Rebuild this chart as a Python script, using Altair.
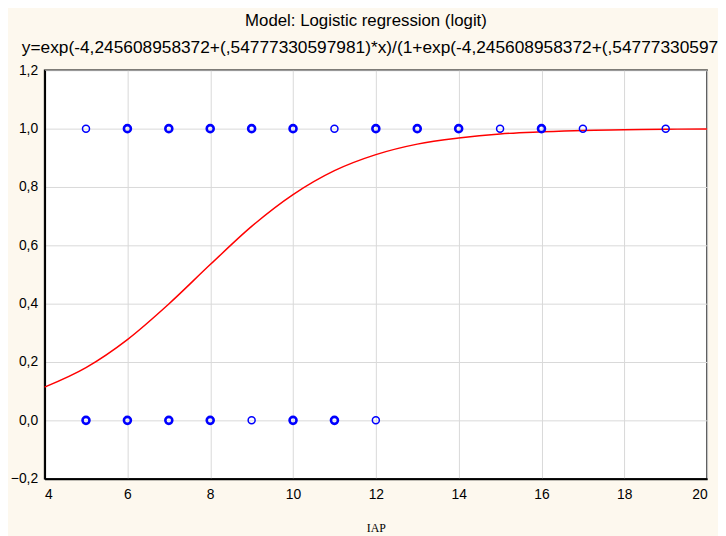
import altair as alt
import pandas as pd

# fitted logistic curve
curve_x = [4, 5, 6, 7, 8, 9, 10, 11, 12, 13, 14, 15, 16, 17, 18, 19, 20]
curve_y = [0.114, 0.181, 0.277, 0.399, 0.534, 0.665, 0.774, 0.856, 0.911,
           0.947, 0.968, 0.982, 0.989, 0.994, 0.996, 0.998, 0.999]

# observed cases (y = 1) and overlap multiplicity (1 = single, 2 = several)
one_x = [5, 6, 7, 8, 9, 10, 11, 12, 13, 14, 15, 16, 17, 19]
one_n = [1, 2, 2, 2, 2, 2, 1, 2, 2, 2, 1, 2, 1, 1]
# observed cases (y = 0)
zero_x = [5, 6, 7, 8, 9, 10, 11, 12]
zero_n = [2, 2, 2, 2, 1, 2, 2, 1]

title1 = "Model: Logistic regression (logit)"
title2 = "y=exp(-4,245608958372+(,54777330597981)*x)/(1+exp(-4,245608958372+(,54777330597981)*x))"
x_title = "IAP"
x_ticks = [4, 6, 8, 10, 12, 14, 16, 18, 20]
y_ticks = [-0.2, 0.0, 0.2, 0.4, 0.6, 0.8, 1.0, 1.2]

curve_df = pd.DataFrame({"x": curve_x, "y": curve_y})
pts_df = pd.DataFrame({
    "x": one_x + zero_x,
    "y": [1.0] * len(one_x) + [0.0] * len(zero_x),
    "n": one_n + zero_n,
})

xs = alt.Scale(domain=[4, 20], nice=False, zero=False)
ys = alt.Scale(domain=[-0.2, 1.2], nice=False, zero=False)

x_axis = alt.Axis(values=x_ticks, title=x_title, ticks=False, labelPadding=9,
                  titleFont="Liberation Serif", titleFontSize=12, titleFontWeight="normal",
                  titlePadding=21)
y_axis = alt.Axis(values=y_ticks, title=None, ticks=False, labelPadding=7,
                  labelExpr="replace(format(datum.value, '.1f'), '.', ',')")

curve = alt.Chart(curve_df).mark_line(color="#ff0000", strokeWidth=1.5,
                                      interpolate="monotone").encode(
    x=alt.X("x:Q", scale=xs, axis=x_axis),
    y=alt.Y("y:Q", scale=ys, axis=y_axis),
)

points = alt.Chart(pts_df).mark_point(shape="circle", filled=False, color="#0000ff",
                                      size=50, opacity=1).encode(
    x=alt.X("x:Q", scale=xs),
    y=alt.Y("y:Q", scale=ys),
    strokeWidth=alt.StrokeWidth("n:O", scale=alt.Scale(domain=[1, 2], range=[1.5, 2.6]),
                                legend=None),
)

t1 = alt.Chart(pd.DataFrame({"t": [title1]})).mark_text(
    align="center", baseline="middle", font="Liberation Sans", fontSize=17, color="#000000"
).encode(x=alt.value(325), y=alt.value(-50), text="t:N")

t2 = alt.Chart(pd.DataFrame({"t": [title2]})).mark_text(
    align="left", baseline="middle", font="Liberation Sans", fontSize=17.5, color="#000000"
).encode(x=alt.value(-23), y=alt.value(-23), text="t:N")

chart = alt.layer(curve, points, t1, t2).properties(
    width=670, height=413,
    autosize=alt.AutoSizeParams(type="none"),
    padding={"left": 37, "top": 60, "right": 11, "bottom": 60},
    background="#fdf8ee",
).configure_view(
    fill="#ffffff", stroke="#000000", strokeWidth=1.5
).configure_axis(
    grid=True, gridColor="#d9d9d9", gridWidth=1,
    domain=True, domainColor="#000000", domainWidth=2,
    labelFont="Liberation Sans", labelFontSize=14, labelColor="#000000",
    titleColor="#000000",
)

chart.save("out.html", embed_options={"renderer": "svg", "actions": False})
